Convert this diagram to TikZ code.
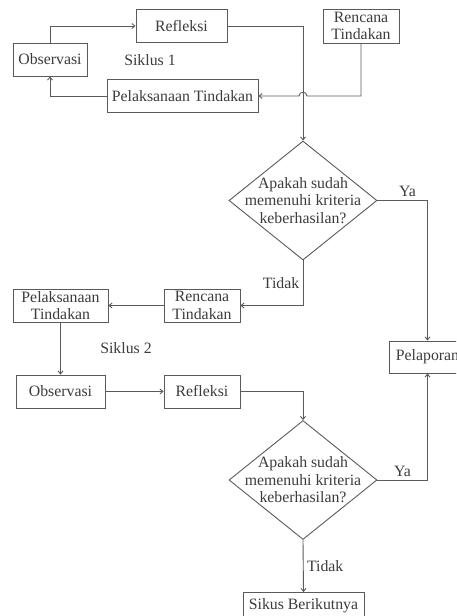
\documentclass[tikz,border=0pt]{standalone}
\usepackage{fontspec}
\setmainfont{Liberation Serif}
\usetikzlibrary{shapes.geometric,arrows.meta}
\definecolor{garis}{HTML}{5A5A5A}
\definecolor{teks}{HTML}{3C3C3C}
\tikzset{
	kotak/.style={draw=garis, line width=0.9pt, fill=white, text=teks, align=center, inner sep=0pt, minimum height=33pt},
	cek/.style={diamond, draw=garis, line width=0.9pt, inner sep=0pt, minimum width=148pt, minimum height=119pt},
	alur/.style={draw=garis, line width=0.9pt, -{Straight Barb[length=3pt,width=5pt]}},
	ket/.style={text=teks}
}

\begin{document}
\begin{tikzpicture}[x=1pt, y=-1pt, font=\fontsize{15.8}{17.5}\selectfont]
		%%%%% START %%%%%
		
		\useasboundingbox (0,0) rectangle (456,616);
		\clip (0,0) rectangle (456,616);
		
		% siklus 1
		\node[kotak, minimum width=91pt] (refl1) at (181.5, 26) {Refleksi};
		\node[kotak, minimum width=74pt] (obs1) at (50, 59.5) {Observasi};
		\node[kotak, minimum width=151pt, minimum height=33pt] (plk1) at (182.5, 96) {Pelaksanaan Tindakan};
		\node[kotak, minimum width=76pt, minimum height=34pt] (ren1) at (361, 26) {Rencana\\Tindakan};
		\node[ket] (sik1) at (150, 60) {Siklus 1};
		\node[cek, label={[ket, align=center]center:{Apakah sudah\\memenuhi kriteria\\keberhasilan?}}] (cek1) at (303, 200.5) {};
		
		\draw[alur] (obs1.north) |- (refl1.west);
		\draw[alur] (plk1.west) -| (obs1.south);
		\draw[alur] (ren1.south) |- (307, 96) .. controls (307, 91) and (299, 91) .. (299, 96) -- (plk1.east);
		\draw[alur] (refl1.east) -| (cek1.north);
		
		% siklus 2
		\node[kotak, minimum width=76pt] (ren2) at (202, 305.5) {Rencana\\Tindakan};
		\node[kotak, minimum width=95pt] (plk2) at (60.5, 305.5) {Pelaksanaan\\Tindakan};
		\node[ket] (sik2) at (126, 348) {Siklus 2};
		\node[kotak, minimum width=89pt] (obs2) at (60.5, 391.5) {Observasi};
		\node[kotak, minimum width=76pt] (refl2) at (202, 391.5) {Refleksi};
		\node[cek, label={[ket, align=center]center:{Apakah sudah\\memenuhi kriteria\\keberhasilan?}}] (cek2) at (303, 480) {};
		\node[kotak, minimum width=77pt, minimum height=32pt] (lapor) at (427.5, 357) {Pelaporan};
		\node[kotak, minimum width=121pt, minimum height=27pt] (next) at (303.5, 606) {Sikus Berikutnya};
		
		\draw[alur] (cek1.east) -| (lapor.north) node[ket, pos=0.3, above] {Ya};
		\draw[alur] (cek1.south) |- (ren2.east) node[ket, pos=0.25, left] {Tidak};
		\draw[alur] (ren2.west) -- (plk2.east);
		\draw[alur] (plk2.south) -- (obs2.north);
		\draw[alur] (obs2.east) -- (refl2.west);
		\draw[alur] (refl2.east) -| (cek2.north);
		\draw[alur] (cek2.east) -| (lapor.south) node[ket, pos=0.25, above] {Ya};
		\draw[alur] (cek2.south) -- (next.north) node[ket, midway, right] {Tidak};
		
		%%%%% END %%%%%
\end{tikzpicture}
\end{document}
